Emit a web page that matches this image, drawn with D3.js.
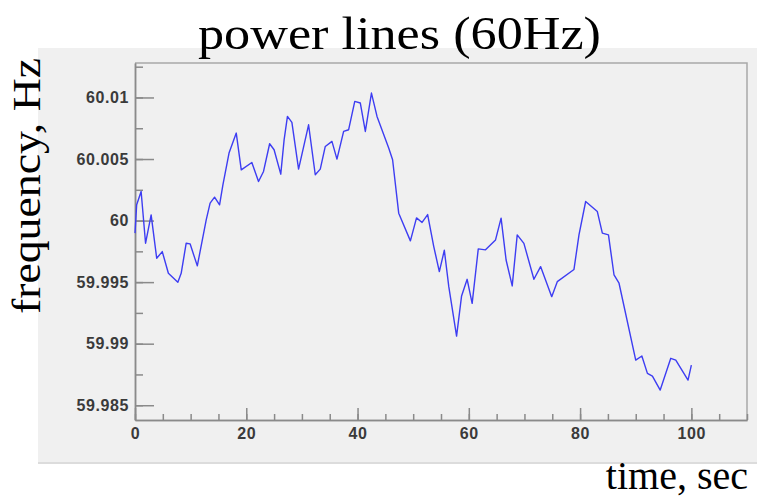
<!DOCTYPE html>
<html>
<head>
<meta charset="utf-8">
<script src="https://cdn.jsdelivr.net/npm/d3@7"></script>
<style>
  body { margin: 0; background: #fff; }
  svg { display: block; }
  .tick text { font-family: "Liberation Sans", Arial, sans-serif; font-size: 16px; font-weight: bold; fill: #3a3a3a; letter-spacing: 0.6px; }
  .label { font-family: "Liberation Serif", "Times New Roman", serif; fill: #000; }
</style>
</head>
<body>
<svg width="761" height="497"></svg>
<script>
const width = 761
const height = 497
const margin = { top: 63, right: 14, bottom: 77, left: 135 }

// time (s) and frequency (Hz)
const times = [
  0.0, 0.3, 1.1, 1.9, 2.9, 3.9, 4.9, 6.0, 7.7, 8.3, 9.2, 9.9, 11.2, 12.8, 13.5,
  14.3, 15.2, 15.8, 16.9, 18.2, 19.1, 21.0, 22.2, 23.1, 24.2, 25.0, 26.2, 26.8,
  27.4, 28.2, 29.4, 31.2, 32.4, 33.3, 34.2, 35.4, 36.3, 37.5, 38.4, 39.5, 40.5,
  41.4, 42.5, 43.5, 45.6, 46.3, 47.4, 49.5, 50.6, 51.6, 52.6, 53.7, 54.7, 55.6,
  56.4, 57.8, 58.7, 59.7, 60.6, 61.7, 63.0, 64.8, 65.8, 66.7, 67.8, 68.7, 69.9,
  71.7, 72.9, 74.9, 75.9, 78.9, 79.8, 81.0, 83.1, 84.0, 85.1, 86.1, 87.0, 90.0,
  91.1, 92.1, 93.0, 94.4, 96.3, 97.2, 99.4, 100.0
]
const freqs = [
  59.99898, 60.00128, 60.00236, 59.99816, 60.00046, 59.99694, 59.99748, 59.99572,
  59.99499, 59.99572, 59.99816, 59.99811, 59.99632, 60.00006, 60.00142, 60.00190,
  60.00128, 60.00290, 60.00548, 60.00711, 60.00412, 60.00472, 60.00317, 60.00399,
  60.00624, 60.00575, 60.00377, 60.00656, 60.00846, 60.00797, 60.00418, 60.00778,
  60.00372, 60.00418, 60.00602, 60.00643, 60.00499, 60.00724, 60.00738, 60.00968,
  60.00955, 60.00724, 60.01036, 60.00846, 60.00589, 60.00494, 60.00060, 59.99835,
  60.00022, 59.99985, 60.00049, 59.99789, 59.99585, 59.99759, 59.99463, 59.99062,
  59.99388, 59.99523, 59.99328, 59.99770, 59.99762, 59.99843, 60.00020, 59.99680,
  59.99469, 59.99884, 59.99815, 59.99523, 59.99626, 59.99382, 59.99504, 59.99603,
  59.99884, 60.00155, 60.00073, 59.99898, 59.99884, 59.99558, 59.99491, 59.98867,
  59.98900, 59.98759, 59.98737, 59.98623, 59.98881, 59.98867, 59.98704, 59.98826
]

const xMajor = [0, 20, 40, 60, 80, 100]
const xMinor = [0, 5, 10, 15, 20, 25, 30, 35, 40, 45, 50, 55, 60, 65, 70, 75, 80, 85, 90, 95, 100, 105, 110]
const yMajor = [59.985, 59.99, 59.995, 60, 60.005, 60.01]
const yMinor = [59.985, 59.9875, 59.99, 59.9925, 59.995, 59.9975, 60, 60.0025, 60.005, 60.0075, 60.01, 60.0125]

const data = times.map((t, i) => ({ t, f: freqs[i] }))

const svg = d3.select('svg')

// gray canvas panel
svg.append('rect')
  .attr('x', 38).attr('y', 48)
  .attr('width', 719).attr('height', 414)
  .attr('fill', '#f0f0f0')
svg.append('line')
  .attr('x1', 38).attr('x2', 757).attr('y1', 463).attr('y2', 463)
  .attr('stroke', '#dcdcdc').attr('stroke-width', 2)

const x = d3.scaleLinear().domain([0, 110]).range([margin.left, width - margin.right])
const y = d3.scaleLinear().domain([59.9838, 60.0128]).range([height - margin.bottom, margin.top])

const axisColor = '#8a8a8a'

// frame top/right
svg.append('path')
  .attr('d', `M${margin.left},${margin.top}H${width - margin.right}V${height - margin.bottom}`)
  .attr('fill', 'none')
  .attr('stroke', '#a8a8a8')
  .attr('stroke-width', 1.5)

// minor ticks
svg.append('g')
  .attr('transform', `translate(${margin.left},0)`)
  .call(d3.axisLeft(y).tickValues(yMinor).tickSizeInner(-8).tickSizeOuter(0).tickFormat(''))
svg.append('g')
  .attr('transform', `translate(0,${height - margin.bottom})`)
  .call(d3.axisBottom(x).tickValues(xMinor).tickSizeInner(-6).tickSizeOuter(0).tickFormat(''))

// major ticks + labels
svg.append('g')
  .attr('transform', `translate(${margin.left},0)`)
  .call(d3.axisLeft(y).tickValues(yMajor).tickSizeInner(-19).tickSizeOuter(0).tickPadding(6)
    .tickFormat(d => String(+d.toFixed(4))))
svg.append('g')
  .attr('transform', `translate(0,${height - margin.bottom})`)
  .call(d3.axisBottom(x).tickValues(xMajor).tickSizeInner(-12).tickSizeOuter(0).tickPadding(8))

svg.selectAll('.domain').attr('stroke', axisColor).attr('stroke-width', 1.5)
svg.selectAll('.tick line').attr('stroke', axisColor).attr('stroke-width', 1.5)

// the line
const line = d3.line().x(d => x(d.t)).y(d => y(d.f))
svg.append('path')
  .datum(data)
  .attr('d', line)
  .attr('fill', 'none')
  .attr('stroke', '#3d3df2')
  .attr('stroke-width', 1.4)
  .attr('stroke-linejoin', 'round')

// titles
svg.append('text')
  .attr('class', 'label')
  .attr('x', 198).attr('y', 49)
  .attr('font-size', 46)
  .attr('textLength', 403)
  .attr('lengthAdjust', 'spacingAndGlyphs')
  .text('power lines (60Hz)')

svg.append('text')
  .attr('class', 'label')
  .attr('transform', 'translate(40,186) rotate(-90)')
  .attr('text-anchor', 'middle')
  .attr('font-size', 40)
  .attr('textLength', 256)
  .attr('lengthAdjust', 'spacingAndGlyphs')
  .text('frequency, Hz')

svg.append('text')
  .attr('class', 'label')
  .attr('x', 748).attr('y', 489)
  .attr('text-anchor', 'end')
  .attr('font-size', 40)
  .text('time, sec')
</script>
</body>
</html>
